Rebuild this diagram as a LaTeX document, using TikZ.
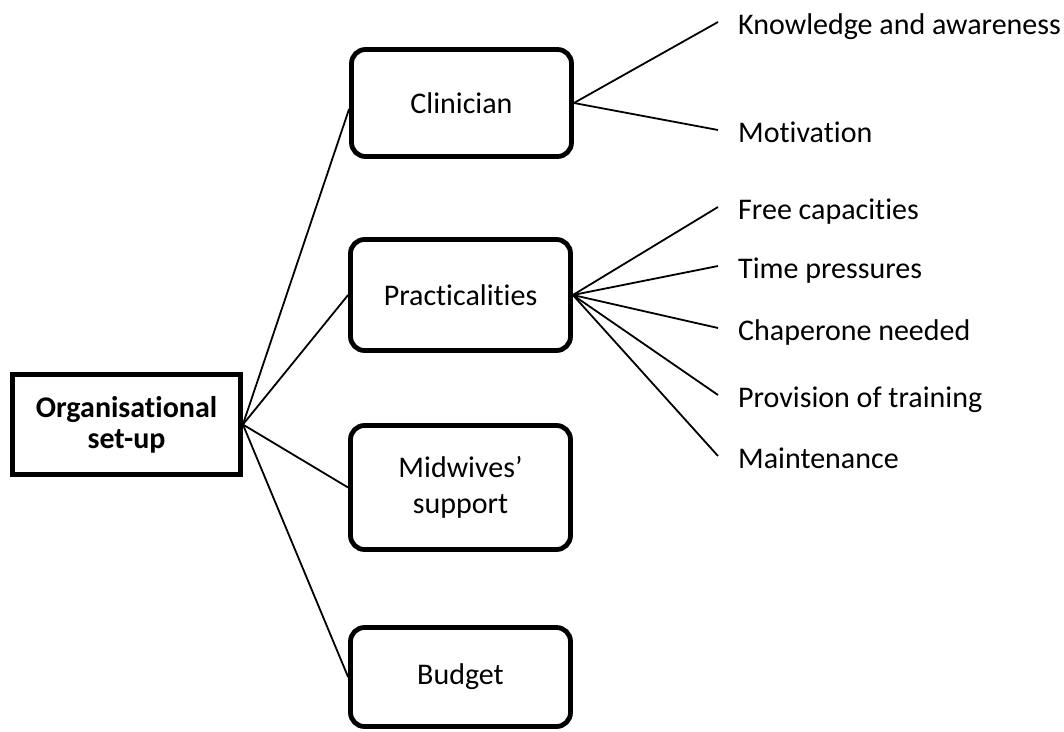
\documentclass[tikz,border=0pt]{standalone}
\usepackage{fontspec}
\setmainfont{Carlito}[Ligatures=NoCommon]
\begin{document}
\begin{tikzpicture}[x=1pt,y=-1pt,
  txt/.style={font=\fontsize{30}{36}\selectfont, align=center},
  rootbox/.style={txt, draw, line width=4.8pt, minimum width=228pt, minimum height=100pt, inner sep=0pt, font=\fontsize{30}{31}\selectfont\bfseries},
  catbox/.style={txt, draw, line width=4.8pt, rounded corners=14pt, minimum width=220pt, inner sep=0pt},
  leaf/.style={font=\fontsize{30}{36}\selectfont, anchor=west, inner xsep=20pt, inner ysep=0pt, text height=25pt, text depth=1pt},
  conn/.style={line width=1.8pt}]
\useasboundingbox (0,0) rectangle (1064,731);
\node[rootbox] (root) at (126.5,424.5) {Organisational\\set-up};
\node[catbox, minimum height=107pt] (cl) at (461.5,103) {Clinician};
\node[catbox, minimum height=111pt] (pr) at (460.5,295) {Practicalities};
\node[catbox, minimum height=124pt] (mw) at (460.5,487.5) {Midwives’\\support};
\node[catbox, minimum height=99pt] (bu) at (460.5,677) {Budget};
\node[leaf] (k) at (718,22) {Knowledge and awareness};
\node[leaf] (m) at (718,130) {Motivation};
\node[leaf] (f) at (718,207) {Free capacities};
\node[leaf] (t) at (718,266) {Time pressures};
\node[leaf] (c) at (718,328) {Chaperone needed};
\node[leaf] (p) at (718,395) {Provision of training};
\node[leaf] (mt) at (718,456) {Maintenance};
\draw[conn] (root.east) -- ([yshift=-6pt]cl.west);
\draw[conn] (root.east) -- (pr.west);
\draw[conn] (root.east) -- (mw.west);
\draw[conn] (root.east) -- (bu.west);
\draw[conn] (cl.east) -- (k.west);
\draw[conn] (cl.east) -- (m.west);
\draw[conn] (pr.east) -- (f.west);
\draw[conn] (pr.east) -- (t.west);
\draw[conn] (pr.east) -- (c.west);
\draw[conn] (pr.east) -- (p.west);
\draw[conn] (pr.east) -- (mt.west);
\end{tikzpicture}
\end{document}
